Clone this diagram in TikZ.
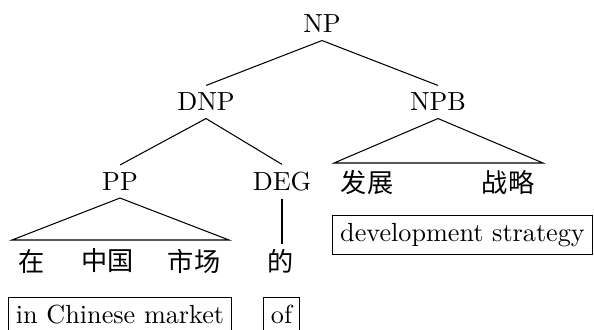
\documentclass[tikz,border=0pt]{standalone}
\usepackage{fontspec}
\newfontfamily\cjk{Noto Sans CJK SC}
\usetikzlibrary{positioning}

\tikzset{
    cat/.style={inner sep=2.7pt},
    word/.style={inner sep=0pt, font=\cjk},
    gloss/.style={draw, inner sep=3pt, text height=6.94pt, text depth=1.94pt, anchor=north}
}

\begin{document}
\begin{tikzpicture}[x=0.382pt, y=-0.382pt]
    \useasboundingbox (0,0) rectangle (594,329);

    \node[cat] (NP)  at (322,24)    {NP};
    \node[cat] (DNP) at (206,102)   {DNP};
    \node[cat] (NPB) at (438,102)   {NPB};
    \node[cat] (PP)  at (120,181.5) {PP};
    \node[cat] (DEG) at (282,181.5) {DEG};

    \draw (NP.south) -- (DNP.north);
    \draw (NP.south) -- (NPB.north);
    \draw (DNP.south) -- (PP.north);
    \draw (DNP.south) -- (DEG.north);

    % PP triangle
    \coordinate (ppL) at (12,240);
    \coordinate (ppR) at (229,240);
    \draw (ppL) -- (PP.south) -- (ppR) -- cycle;
    \node[word] (zai)      at (32,261)    {在};
    \node[word] (zhongguo) at (107.5,261) {中国};
    \node[word] (shichang) at (194,261)   {市场};

    % DEG
    \node[word] (de) at (281,261) {的};
    \draw (DEG.south) -- ++(0,45);

    % NPB triangle
    \coordinate (npbL) at (334,163);
    \coordinate (npbR) at (543,163);
    \draw (npbL) -- (NPB.south) -- (npbR) -- cycle;
    \node[word] (fazhan)  at (367,183) {发展};
    \node[word] (zhanlue) at (508,183) {战略};

    % glosses
    \node[gloss] (g1) at (120,297)   {in Chinese market};
    \node[gloss] (g2) at (281.5,297) {of};
    \node[gloss] (g3) at (462.5,215) {development strategy};
\end{tikzpicture}
\end{document}
